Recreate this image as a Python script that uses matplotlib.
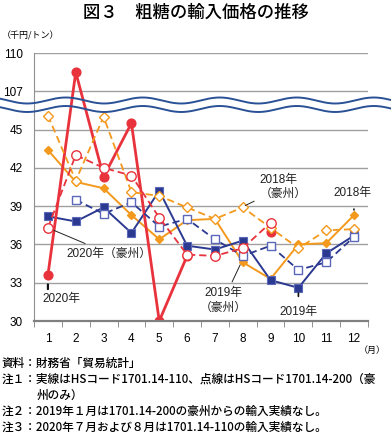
import numpy as np
import matplotlib
matplotlib.use("Agg")
import matplotlib.pyplot as plt

plt.rcParams['font.family'] = ['Liberation Sans', 'Noto Sans CJK JP', 'DejaVu Sans']

months = np.arange(1, 13)
month_labels = [str(m) for m in months]
nan = np.nan

# 千円/トン
s2018 = [43.4, 40.9, 40.4, 38.3, 36.4, 37.9, 38.0, 34.6, 33.3, 36.0, 36.1, 38.3]
s2018_au = [46.1, 41.0, 46.0, 40.1, 39.8, 38.9, 38.0, 38.9, 37.3, 35.7, 37.1, 37.2]
s2019 = [38.2, 37.8, 38.9, 36.9, 40.2, 35.9, 35.6, 36.3, 33.2, 32.6, 35.3, 36.7]
s2019_au = [nan, 39.5, 38.4, 39.3, 37.4, 38.0, 36.4, 35.1, 35.9, 34.0, 34.6, 36.6]
s2020 = [33.6, 108.5, 41.3, 45.5, 30.0, 35.1, nan, nan, 37.0, nan, nan, nan]
s2020_au = [37.3, 43.0, 42.0, 41.4, 38.1, 35.2, 35.1, 35.7, 37.7, nan, nan, nan]

lower_ticks = [30, 33, 36, 39, 42, 45]
upper_ticks = [107, 110]
BREAK_OFFSET = 59  # 107 is drawn where 48 would be


def tr(vals):
    v = np.array(vals, dtype=float)
    return np.where(v > 60, v - BREAK_OFFSET, v)


W, H = 391, 434
fig = plt.figure(figsize=(W / 100, H / 100), dpi=100)
ax = fig.add_axes([34 / W, 1 - 321 / H, (368 - 34) / W, (321 - 53) / H])
ax.set_xlim(0.5, 12.5)
ax.set_ylim(30, 51)

RED = '#e8323c'
ORG = '#f39a1e'
BLU = '#2b3990'
BLU_E = '#5b67b8'

# grid lines
for t in lower_ticks[1:] + [48, 51]:
    ax.axhline(t, color='#a0a0a0', lw=1.0, zorder=0)

dash = (0, (4, 2.2))
ms = 6.3
# 2018 solid
ax.plot(months, tr(s2018), ls='-', color=ORG, lw=1.4, marker='D', ms=4.2,
        mfc=ORG, mec=ORG, zorder=2)
# 2019 solid
ax.plot(months, tr(s2019), ls='-', color=BLU, lw=1.4, marker='s', ms=ms,
        mfc=BLU, mec=BLU_E, mew=0.8, zorder=2)
# 2020 solid
ax.plot(months, tr(s2020), ls='-', color=RED, lw=2.0, marker='o', ms=ms,
        mfc=RED, mec=RED, zorder=2.5)
# 2018 豪州 (dashed, hollow diamonds)
ax.plot(months, tr(s2018_au), ls=dash, color=ORG, lw=1.3, marker='D', ms=5.2,
        mfc='white', mec=ORG, mew=1.0, zorder=3)
# 2019 豪州 (dashed, hollow squares)
ax.plot(months, tr(s2019_au), ls=dash, color=BLU, lw=1.3, marker='s', ms=ms,
        mfc='white', mec=BLU_E, mew=1.0, zorder=3)
# 2020 豪州 (dashed, hollow circles)
ax.plot(months, tr(s2020_au), ls=dash, color=RED, lw=1.3, marker='o', ms=ms + 0.5,
        mfc='white', mec=RED, mew=1.0, zorder=3.5)

# axes styling
for s in ['top', 'right']:
    ax.spines[s].set_visible(False)
ax.spines['left'].set_color('#909090')
ax.spines['bottom'].set_color('#808080')
ax.spines['bottom'].set_linewidth(1.6)
ax.set_yticks(lower_ticks + [48, 51])
ax.set_yticklabels([str(t) for t in lower_ticks] + [str(t) for t in upper_ticks],
                   fontsize=8.5)
ax.tick_params(axis='y', length=0, pad=8)
ax.set_xticks(months)
ax.set_xticklabels(month_labels, fontsize=8.5)
ax.set_xticks(np.arange(0.5, 13, 1), minor=True)
ax.tick_params(axis='x', which='major', length=0, pad=9)
ax.tick_params(axis='x', which='minor', length=4, color='#808080', direction='out')

# wave break
xw = np.linspace(0, W, 400)
for yc in (100.5, 109):
    yw = yc + 3.0 * np.sin(2 * np.pi * (xw - 8) / 77.0)
    fig.add_artist(plt.Line2D(xw / W, 1 - yw / H, color='#2a5196', lw=1.4,
                              transform=fig.transFigure, zorder=10))

# annotations
akw = dict(fontsize=8.5, color='#222222')
lkw = dict(color='#222222', lw=0.7)
ax.annotate('2020年（豪州）', xy=(1, 37.3), xytext=(1.65, 35.3), ha='left', va='center',
            arrowprops=dict(arrowstyle='-', **lkw), **akw)
ax.annotate('', xy=(1, 33.3), xytext=(1, 32.5),
            arrowprops=dict(arrowstyle='-', color='#111111', lw=1.6, shrinkA=0, shrinkB=4))
ax.text(0.82, 31.75, '2020年', ha='left', va='center', **akw)
ax.annotate('2018年\n（豪州）', xy=(8, 38.95), xytext=(8.6, 40.5), ha='left', va='center',
            linespacing=1.3, arrowprops=dict(arrowstyle='-', **lkw), **akw)
ax.annotate('2018年', xy=(12, 38.6), xytext=(11.95, 40.0), ha='center', va='center',
            arrowprops=dict(arrowstyle='-', color='#111111', lw=1.2, shrinkA=5, shrinkB=1), **akw)
ax.annotate('2019年\n（豪州）', xy=(7.95, 34.6), xytext=(7.3, 31.6), ha='center', va='center',
            linespacing=1.3, arrowprops=dict(arrowstyle='-', **lkw), **akw)
ax.annotate('2019年', xy=(10, 32.3), xytext=(10.0, 30.7), ha='center', va='center',
            arrowprops=dict(arrowstyle='-', color='#111111', lw=1.2, shrinkA=5, shrinkB=1), **akw)

# title and labels
fig.text(0.5, 1 - 13 / H, '図３　粗糖の輸入価格の推移', ha='center', va='center',
         fontsize=12.5, family=['Noto Sans CJK JP'], weight='medium')
fig.text(2 / W, 1 - 36 / H, '（千円/トン）', ha='left', va='center', fontsize=6.5,
         family=['Noto Sans CJK JP'])
fig.text(386 / W, 1 - 350 / H, '（月）', ha='right', va='center', fontsize=6.5,
         family=['Noto Sans CJK JP'])

notes = [
    (2, 363, '資料：財務省「貿易統計」'),
    (2, 379, '注１：実線はHSコード1701.14-110、点線はHSコード1701.14-200（豪'),
    (37, 395, '州のみ）'),
    (2, 411, '注２：2019年１月は1701.14-200の豪州からの輸入実績なし。'),
    (2, 427, '注３：2020年７月および８月は1701.14-110の輸入実績なし。'),
]
for x, y, t in notes:
    fig.text(x / W, 1 - y / H, t, ha='left', va='center', fontsize=8.4,
             family=['Noto Sans CJK JP'], weight='medium')

fig.savefig('out.png', dpi=100)
